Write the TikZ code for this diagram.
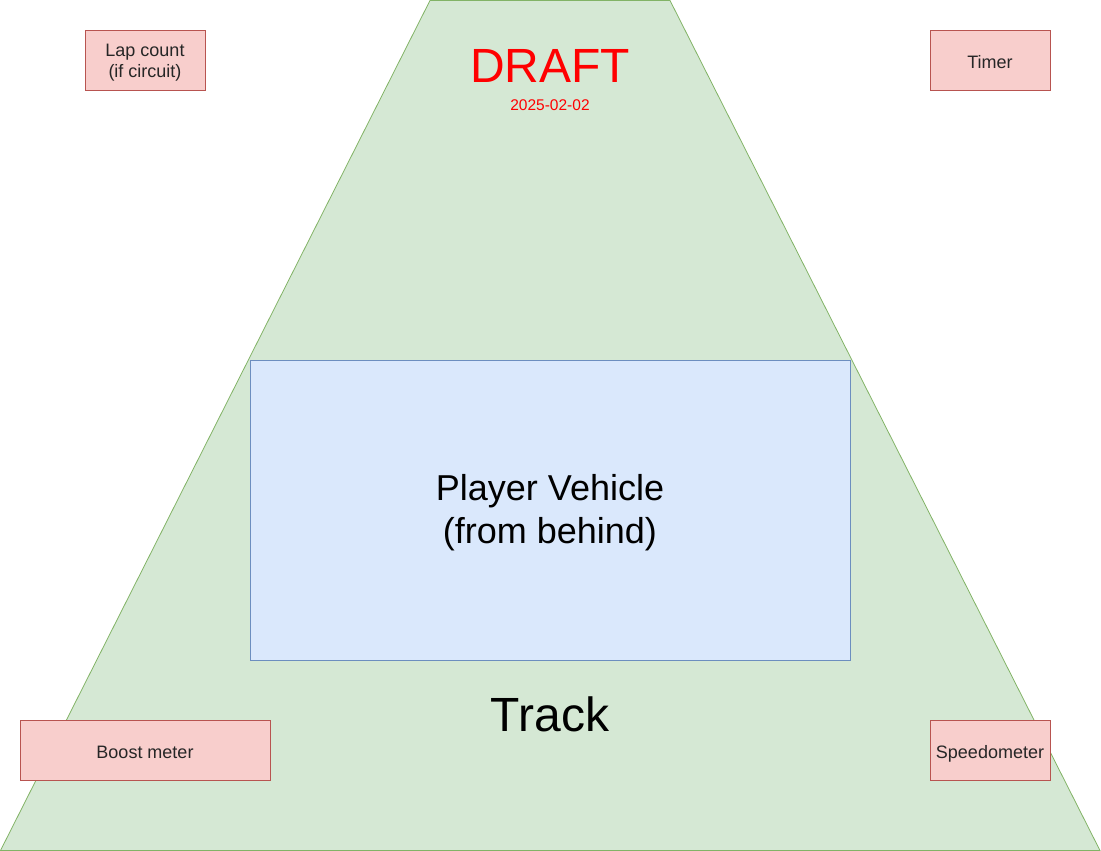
\documentclass[tikz,border=0pt]{standalone}
\usepackage{fontspec}
\setmainfont{Liberation Sans}
\definecolor{trackfill}{HTML}{D5E8D4}
\definecolor{trackline}{HTML}{82B366}
\definecolor{carfill}{HTML}{DAE8FC}
\definecolor{carline}{HTML}{6C8EBF}
\definecolor{hudfill}{HTML}{F8CECC}
\definecolor{hudline}{HTML}{B85450}
\definecolor{draftred}{HTML}{FF0000}
\begin{document}
\begin{tikzpicture}[x=1pt,y=-1pt,
  hudbox/.style={draw=hudline,fill=hudfill,line width=0.8pt,inner sep=0pt},
  hudtext/.style={inner sep=0pt,align=center,yshift=-2.5pt,
    font=\fontsize{18}{21.6}\selectfont,text=black!85},
  carbox/.style={draw=carline,fill=carfill,line width=0.8pt,inner sep=0pt},
  cartext/.style={inner sep=0pt,align=center,yshift=-3pt,
    font=\fontsize{36}{43.2}\selectfont,text=black},
  lbl/.style={inner sep=0pt,align=center}]
\useasboundingbox (0,0) rectangle (1101,851);
% track (trapezoid)
\draw[draw=trackline,fill=trackfill,line width=0.8pt]
  (430,0.5) -- (670,0.5) -- (1100,850.5) -- (0.5,850.5) -- cycle;
% player vehicle
\node[carbox,minimum width=600pt,minimum height=300pt] (car) at (550,510) {};
\node[cartext] (cartxt) at (car.center) {Player Vehicle\\(from behind)};
% headings
\node[lbl,text=draftred,font=\fontsize{48}{48}\selectfont] (draft) at (550,66) {DRAFT};
\node[lbl,text=draftred,font=\fontsize{15.5}{15.5}\selectfont] (date) at (550,105) {2025-02-02};
\node[lbl,font=\fontsize{48}{48}\selectfont] (track) at (550,714) {Track};
% HUD elements
\node[hudbox,minimum width=120pt,minimum height=60pt] (lap) at (145,60) {};
\node[hudtext] (laptxt) at (lap.center) {Lap count\\(if circuit)};
\node[hudbox,minimum width=120pt,minimum height=60pt] (timer) at (990,60) {};
\node[hudtext] (timertxt) at (timer.center) {Timer};
\node[hudbox,minimum width=250pt,minimum height=60pt] (boost) at (145,750) {};
\node[hudtext] (boosttxt) at (boost.center) {Boost meter};
\node[hudbox,minimum width=120pt,minimum height=60pt] (speed) at (990,750) {};
\node[hudtext,yshift=-1pt] (speedtxt) at (speed.center) {Speedometer};
\end{tikzpicture}
\end{document}
